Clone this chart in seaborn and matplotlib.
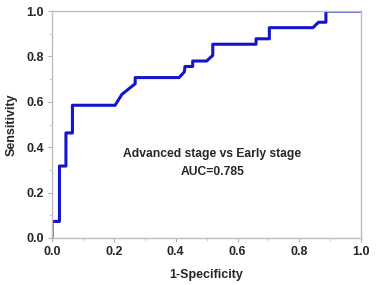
import matplotlib
matplotlib.use("Agg")
import matplotlib.pyplot as plt
import seaborn as sns
import pandas as pd
from matplotlib.ticker import MultipleLocator

# ROC curve
fpr = [0.0, 0.0, 0.024, 0.024, 0.045, 0.045, 0.066, 0.066, 0.204, 0.226, 0.269, 0.269,
       0.411, 0.428, 0.430, 0.455, 0.455, 0.500, 0.520, 0.520, 0.660, 0.660, 0.703, 0.703,
       0.844, 0.862, 0.886, 0.886, 1.0]
tpr = [0.0, 0.073, 0.073, 0.317, 0.317, 0.463, 0.463, 0.585, 0.585, 0.633, 0.680, 0.707,
       0.707, 0.732, 0.756, 0.756, 0.780, 0.780, 0.805, 0.854, 0.854, 0.878, 0.878, 0.927,
       0.927, 0.951, 0.951, 1.0, 1.0]
label_text = "Advanced stage vs Early stage"
auc_text = "AUC=0.785"

df = pd.DataFrame({"fpr": fpr, "tpr": tpr})

sns.set_style("white")
plt.rcParams["font.family"] = ["Liberation Sans", "DejaVu Sans"]

fig = plt.figure(figsize=(3.77, 2.85), dpi=100)
ax = fig.add_axes([0.138, 0.165, 0.82, 0.796])

sns.lineplot(data=df, x="fpr", y="tpr", sort=False, estimator=None,
             color="#1414cc", linewidth=2.2, ax=ax)

ax.set_xlim(0, 1)
ax.set_ylim(0, 1)
ax.xaxis.set_major_locator(MultipleLocator(0.2))
ax.yaxis.set_major_locator(MultipleLocator(0.2))
ax.xaxis.set_minor_locator(MultipleLocator(0.1))
ax.yaxis.set_minor_locator(MultipleLocator(0.1))
ax.tick_params(which="major", direction="out", length=3, width=0.8, color="#b0b0b0",
               labelsize=9, pad=3)
ax.tick_params(which="minor", direction="out", length=2, width=0.6, color="#c8c8c8")
ax.tick_params(axis="both", which="both", bottom=True, left=True)
for lab in ax.get_xticklabels() + ax.get_yticklabels():
    lab.set_fontweight("bold")
ax.xaxis.set_major_formatter(matplotlib.ticker.FormatStrFormatter("%.1f"))
ax.yaxis.set_major_formatter(matplotlib.ticker.FormatStrFormatter("%.1f"))
for sp in ax.spines.values():
    sp.set_color("#bdbdbd")
    sp.set_linewidth(1.0)

ax.set_xlabel("1-Specificity", fontsize=9, fontweight="bold", labelpad=8)
ax.set_ylabel("Sensitivity", fontsize=9, fontweight="bold", labelpad=6)

ax.text(0.518, 0.37, label_text, fontsize=8.7, fontweight="bold", ha="center", va="center")
ax.text(0.518, 0.29, auc_text, fontsize=8.7, fontweight="bold", ha="center", va="center")

fig.savefig("out.png", dpi=100)
